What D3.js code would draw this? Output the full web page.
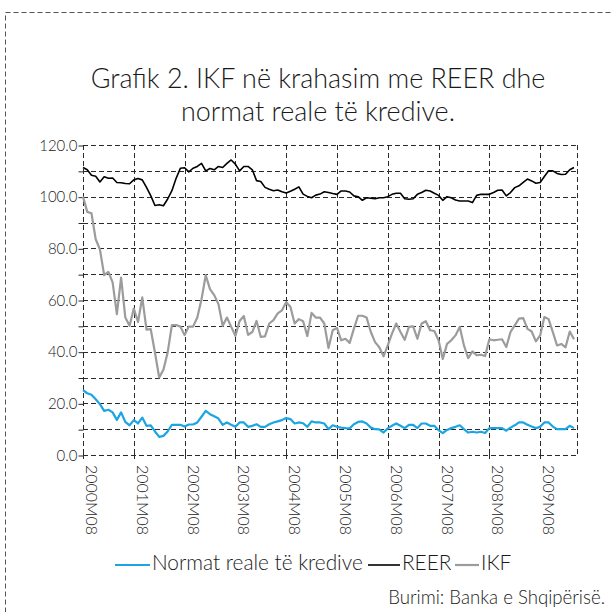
<!DOCTYPE html>
<html><head><meta charset="utf-8">
<script src="https://cdn.jsdelivr.net/npm/d3@7"></script>
<style>
body{margin:0;background:#fff}
svg{display:block}
text{font-family:Lato,"Open Sans",sans-serif;font-weight:300;fill:#1a1a1a}
</style>
</head><body>
<svg id="c" width="611" height="612"></svg>
<script>
const titleLines = ["Grafik 2. IKF në krahasim me REER dhe", "normat reale të kredive."];
const sourceText = "Burimi: Banka e Shqipërisë.";
const seriesNames = ["Normat reale të kredive", "REER", "IKF"];
const seriesColors = ["#1BA5E2", "#000000", "#9C9C9C"];
const tickLabels = ["2000M08","2001M08","2002M08","2003M08","2004M08","2005M08","2006M08","2007M08","2008M08","2009M08"];
const yTicks = [0, 20, 40, 60, 80, 100, 120];

const normat = [25.1,23.9,23.3,21.6,19.7,17.1,17.5,16.5,13.6,16.5,12.8,11.5,13.5,12.2,14.5,11.3,11.5,9.1,7.0,7.4,
9.1,11.7,11.7,11.7,11.0,11.8,11.8,12.6,14.8,17.1,15.8,15.0,14.1,11.7,12.6,11.7,10.9,12.6,12.6,10.9,
11.3,11.9,10.9,10.9,11.9,12.6,13.0,13.5,14.3,13.9,12.2,12.6,12.3,10.9,13.0,12.6,12.6,12.2,10.0,11.5,
10.9,10.6,10.4,10.3,11.9,12.8,13.0,12.2,10.6,10.0,9.9,8.7,10.3,11.3,12.2,11.3,10.4,11.7,11.7,10.4,
12.2,12.2,11.3,11.3,9.6,8.5,9.7,10.4,10.9,11.5,10.0,8.7,9.0,8.7,9.0,8.5,10.4,10.4,10.4,10.4,
9.4,10.6,11.5,12.6,12.6,11.7,11.0,10.4,10.9,12.6,12.6,11.0,10.0,10.0,10.0,11.3,10.4];

const reer = [111.3,110.4,108.3,107.9,105.7,107.7,107.1,107.2,105.5,105.4,105.1,105.0,106.5,107.0,106.5,103.6,100.4,96.6,96.9,96.5,
99.1,102.3,107.1,111.0,111.2,109.6,111.0,111.7,112.9,110.0,110.9,110.4,111.7,111.3,112.9,114.2,112.6,110.0,111.7,111.7,
110.4,106.2,105.9,103.6,102.9,102.3,102.6,101.9,101.4,102.1,102.9,103.8,101.0,100.1,99.6,100.6,101.0,101.9,101.6,101.2,
100.9,102.2,102.2,101.8,100.3,100.0,98.6,99.6,99.4,99.2,99.6,99.6,100.0,100.9,101.3,101.3,99.2,99.0,99.2,100.9,
101.6,102.5,102.2,101.3,100.5,98.6,100.0,99.6,98.7,98.3,98.3,98.3,97.7,100.5,100.9,100.9,100.9,101.6,102.5,102.6,
100.3,101.6,103.5,104.2,105.5,106.8,106.1,105.2,105.5,107.8,110.0,110.0,109.0,108.6,108.7,110.4,111.3];

const ikf = [100,94.1,93.6,83.5,79.6,69.6,70.9,66.8,54.5,68.7,53.2,50.0,56.7,51.5,61.0,48.5,48.7,39.7,30.0,33.0,
39.7,50.3,50.3,49.7,46.4,49.7,49.7,53.2,60.3,69.6,64.2,61.9,58.4,50.0,53.2,49.7,46.1,51.9,53.8,46.5,
47.6,51.9,45.7,45.9,50.9,52.2,54.8,56.0,59.1,57.4,50.9,52.6,51.8,46.0,55.0,53.2,53.2,50.9,41.4,48.3,
49.2,44.4,45.0,43.4,48.9,53.9,53.9,53.2,47.6,43.7,41.7,38.2,42.4,47.0,50.9,47.6,44.6,49.6,49.8,45.0,
50.9,51.8,48.3,48.0,44.4,37.2,43.0,44.4,46.3,49.6,42.4,37.5,40.1,38.6,38.8,38.3,44.8,44.4,44.6,44.8,
41.8,47.6,50.2,52.8,53.0,48.8,47.8,44.0,46.3,53.4,52.6,47.6,42.4,43.0,41.7,47.8,44.8];

// monthly periods starting 2000M08
const periods = normat.map((_, i) => {
  const t = 7 + i;
  return (2000 + Math.floor(t / 12)) + "M" + String(t % 12 + 1).padStart(2, "0");
});

const svg = d3.select("#c");
const L = 83, R = 577, T = 145, B = 455;

const x = d3.scalePoint().domain(periods).range([L, 574]);
const y = d3.scaleLinear().domain([0, 120]).range([B, T]);

// outer dashed border
svg.append("rect").attr("x", 5.5).attr("y", 12.5).attr("width", 640).attr("height", 640)
  .attr("fill", "none").attr("stroke", "#555").attr("stroke-width", 1).attr("stroke-dasharray", "5,3");

function fitText(sel, target) {
  const w = sel.node().getComputedTextLength();
  const fs = parseFloat(sel.attr("font-size"));
  sel.attr("font-size", fs * target / w);
}

// title
const t1 = svg.append("text").attr("x", 318).attr("y", 88).attr("text-anchor", "middle").attr("font-size", 22).text(titleLines[0]);
fitText(t1, 455);
const t2 = svg.append("text").attr("x", 318).attr("y", 121).attr("text-anchor", "middle").attr("font-size", 22).text(titleLines[1]);
t2.attr("font-size", t1.attr("font-size"));

// grid
const grid = svg.append("g").attr("stroke", "#2a2a2a").attr("stroke-width", 1).attr("stroke-dasharray", "5,3").attr("fill", "none");
d3.range(0, 121, 10).forEach(v => {
  grid.append("line").attr("x1", L).attr("x2", R).attr("y1", Math.round(y(v)) + 0.5).attr("y2", Math.round(y(v)) + 0.5);
});
tickLabels.forEach(p => {
  const xx = Math.round(x(p)) + 0.5;
  grid.append("line").attr("x1", xx).attr("x2", xx).attr("y1", T).attr("y2", B);
});
grid.append("line").attr("x1", R + 0.5).attr("x2", R + 0.5).attr("y1", T).attr("y2", B);

// y axis
const yAxis = svg.append("g").attr("transform", `translate(${L + 0.5},0.5)`)
  .call(d3.axisLeft(y).tickValues(d3.range(0, 121, 10)).tickSize(5).tickFormat(d => yTicks.includes(d) ? d3.format(".1f")(d) : ""));
yAxis.select(".domain").remove();
yAxis.selectAll("line").attr("stroke", "#2a2a2a");
yAxis.selectAll("text").attr("font-size", 15).attr("font-family", "Lato,'Open Sans',sans-serif").attr("font-weight", 300).attr("fill", "#1a1a1a").attr("x", -6);

// x axis ticks and labels
const xAxis = svg.append("g");
let xFs = null;
tickLabels.forEach((p, k) => {
  const xx = Math.round(x(p)) + 0.5;
  xAxis.append("line").attr("x1", xx).attr("x2", xx).attr("y1", B - 3).attr("y2", B + 4).attr("stroke", "#2a2a2a");
  const tx = xAxis.append("text").attr("font-size", 14)
    .attr("transform", `translate(${xx + 6},${B + 10}) rotate(90)`)
    .attr("dominant-baseline", "middle")
    .text(p);
  if (k === 0) { fitText(tx, 70); xFs = tx.attr("font-size"); }
  else tx.attr("font-size", xFs);
});

// lines
const seriesData = [normat, reer, ikf];
const widths = [2.2, 1.6, 2.2];
const drawOrder = [2, 1, 0];
drawOrder.forEach(k => {
  svg.append("path")
    .datum(seriesData[k])
    .attr("fill", "none")
    .attr("stroke", seriesColors[k])
    .attr("stroke-width", widths[k])
    .attr("stroke-linejoin", "round")
    .attr("d", d3.line().x((d, i) => x(periods[i])).y(d => y(d)));
});

// legend
const legY = 565;
const lg = svg.append("g");
const legItems = [
  {x0: 115, x1: 150, tx: 152, tw: 211},
  {x0: 368, x1: 400, tx: 402, tw: 46},
  {x0: 455, x1: 479, tx: 481, tw: 27}
];
let legFs = null;
legItems.forEach((it, k) => {
  lg.append("line").attr("x1", it.x0).attr("x2", it.x1).attr("y1", legY).attr("y2", legY)
    .attr("stroke", seriesColors[k]).attr("stroke-width", widths[k]);
  const tx = lg.append("text").attr("x", it.tx).attr("y", legY).attr("dominant-baseline", "middle")
    .attr("font-size", 17).text(seriesNames[k]);
  if (k === 0) { fitText(tx, it.tw); legFs = tx.attr("font-size"); }
  else tx.attr("font-size", legFs);
});

// source
const src = svg.append("text").attr("x", 605).attr("y", 604).attr("text-anchor", "end").attr("font-size", 16).text(sourceText);
fitText(src, 217);
</script>
</body></html>
